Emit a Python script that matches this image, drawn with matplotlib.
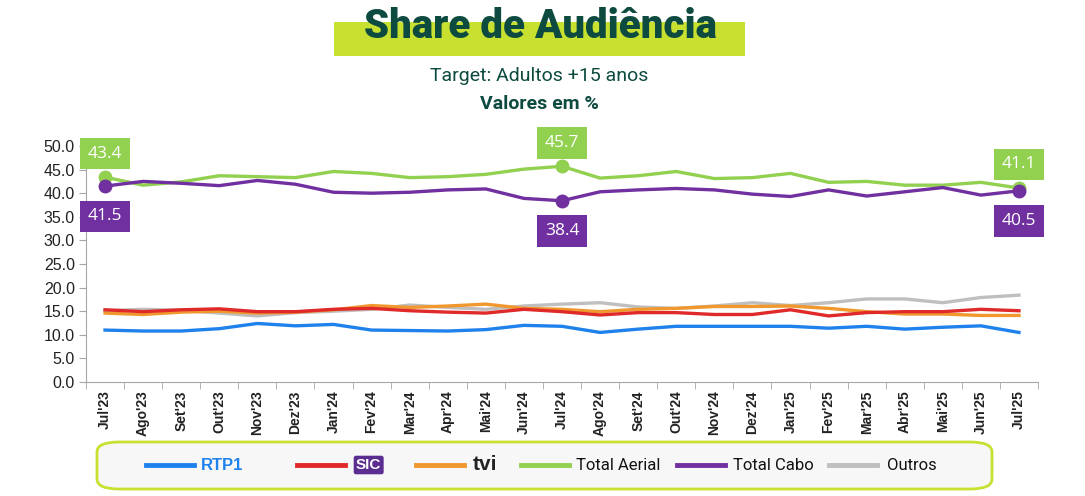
import matplotlib.pyplot as plt
import numpy as np
from matplotlib.patches import FancyBboxPatch, Rectangle

plt.rcParams['font.family'] = ['Liberation Sans', 'DejaVu Sans']

meses = ["Jul'23", "Ago'23", "Set'23", "Out'23", "Nov'23", "Dez'23", "Jan'24", "Fev'24",
         "Mar'24", "Apr'24", "Mai'24", "Jun'24", "Jul'24", "Ago'24", "Set'24", "Out'24",
         "Nov'24", "Dez'24", "Jan'25", "Fev'25", "Mar'25", "Abr'25", "Mai'25", "Jun'25", "Jul'25"]

rtp1 = [11.0, 10.8, 10.8, 11.3, 12.4, 11.9, 12.2, 11.0, 10.9, 10.8, 11.1, 12.0, 11.8, 10.5,
        11.2, 11.8, 11.8, 11.8, 11.8, 11.4, 11.8, 11.2, 11.6, 11.9, 10.5]
sic = [15.3, 14.9, 15.3, 15.5, 14.9, 14.9, 15.4, 15.6, 15.1, 14.8, 14.6, 15.4, 14.9, 14.2,
       14.7, 14.7, 14.3, 14.3, 15.3, 14.0, 14.7, 14.9, 14.9, 15.4, 15.1]
tvi = [14.6, 14.3, 14.8, 15.0, 14.6, 14.8, 15.3, 16.2, 15.8, 16.1, 16.5, 15.6, 15.4, 14.9,
       15.4, 15.6, 16.0, 16.0, 16.1, 15.6, 14.9, 14.4, 14.4, 14.1, 14.1]
total_aerial = [43.4, 41.7, 42.4, 43.7, 43.5, 43.3, 44.6, 44.2, 43.3, 43.5, 44.0, 45.1, 45.7,
                43.2, 43.7, 44.6, 43.1, 43.3, 44.2, 42.3, 42.5, 41.7, 41.7, 42.3, 41.1]
total_cabo = [41.5, 42.5, 42.1, 41.6, 42.7, 41.9, 40.2, 40.0, 40.2, 40.7, 40.9, 38.9, 38.4,
              40.3, 40.7, 41.0, 40.7, 39.8, 39.3, 40.7, 39.4, 40.3, 41.2, 39.6, 40.5]
outros = [15.1, 15.4, 15.2, 14.6, 14.0, 14.7, 15.0, 15.4, 16.3, 15.8, 15.4, 16.1, 16.5, 16.8,
          15.9, 15.6, 16.1, 16.8, 16.2, 16.8, 17.6, 17.6, 16.8, 17.9, 18.4]

cores = {'rtp1': '#1f82ec', 'sic': '#e02a2a', 'tvi': '#f0982e',
         'aerial': '#92d050', 'cabo': '#7030a0', 'outros': '#bfbfbf'}
verde_escuro = '#0d4a3f'

fig = plt.figure(figsize=(10.85, 4.96), dpi=100)
ax = fig.add_axes([86 / 1085, 1 - 382 / 496, (1038 - 86) / 1085, 236 / 496])

x = np.arange(len(meses))
lw = 2.4
ax.plot(x, outros, color=cores['outros'], lw=lw)
ax.plot(x, tvi, color=cores['tvi'], lw=lw)
ax.plot(x, sic, color=cores['sic'], lw=lw)
ax.plot(x, rtp1, color=cores['rtp1'], lw=lw)
ax.plot(x, total_aerial, color=cores['aerial'], lw=lw)
ax.plot(x, total_cabo, color=cores['cabo'], lw=lw)

# pontos destacados com caixas de valor
destaque = [0, 12, 24]
for i in destaque:
    ax.plot(i, total_aerial[i], 'o', color=cores['aerial'], ms=9, clip_on=False, zorder=5)
    ax.plot(i, total_cabo[i], 'o', color=cores['cabo'], ms=9, clip_on=False, zorder=5)
    ax.text(i, total_aerial[i] + 5.0, '%.1f' % total_aerial[i], ha='center', va='center',
            color='white', fontsize=12.5, family=['Open Sans', 'DejaVu Sans'],
            bbox=dict(boxstyle='square,pad=0.45', fc=cores['aerial'], ec='none'), clip_on=False)
    ax.text(i, total_cabo[i] - 6.4, '%.1f' % total_cabo[i], ha='center', va='center',
            color='white', fontsize=12.5, family=['Open Sans', 'DejaVu Sans'],
            bbox=dict(boxstyle='square,pad=0.45', fc=cores['cabo'], ec='none'), clip_on=False)

ax.set_xlim(-0.5, len(meses) - 0.5)
ax.set_ylim(0, 50)
ax.set_yticks(np.arange(0, 50.1, 5))
ax.set_yticklabels(['%.1f' % v for v in np.arange(0, 50.1, 5)], fontsize=11.5, color='#222222')
ax.set_xticks(x)
ax.set_xticklabels(meses, rotation=90, fontsize=10, fontweight='bold', color='#222222')
ax.set_xticks(np.arange(-0.5, len(meses), 1), minor=True)
ax.tick_params(axis='x', which='major', length=0, pad=6)
ax.tick_params(axis='x', which='minor', length=5, color='#a6a6a6')
ax.tick_params(axis='y', length=5, color='#a6a6a6', pad=3)
for s in ['top', 'right']:
    ax.spines[s].set_visible(False)
for s in ['left', 'bottom']:
    ax.spines[s].set_color('#a6a6a6')

# titulo
fig.patches.append(Rectangle((334 / 1085, 1 - 56 / 496), 411 / 1085, 34 / 496,
                             transform=fig.transFigure, fc='#c8e030', ec='none', zorder=0))
fig.text(0.4985, 1 - 26 / 496, 'Share de Audiência', ha='center', va='center',
         fontsize=29, fontweight='heavy', color=verde_escuro, family=['Roboto', 'DejaVu Sans'])
fig.text(0.497, 1 - 76 / 496, 'Target: Adultos +15 anos', ha='center', va='center',
         fontsize=14, color=verde_escuro, family=['Roboto', 'DejaVu Sans'])
fig.text(0.497, 1 - 104 / 496, 'Valores em %', ha='center', va='center',
         fontsize=14, fontweight='bold', color=verde_escuro, family=['Roboto', 'DejaVu Sans'])

# legenda
fig.patches.append(FancyBboxPatch((97 / 1085, 1 - 489 / 496), 895 / 1085, 47 / 496,
                                  boxstyle='round,pad=0,rounding_size=0.02',
                                  transform=fig.transFigure, fc='#f7f7f7', ec='#c8e030', lw=2))
ly = 1 - 465 / 496
itens = [('rtp1', 'RTP1', 146, 201), ('sic', 'SIC', 297, 353), ('tvi', 'tvi', 416, 473),
         ('aerial', 'Total Aerial', 521, 576), ('cabo', 'Total Cabo', 677, 733),
         ('outros', 'Outros', 829, 887)]
for chave, nome, x0, xt in itens:
    fig.lines.append(plt.Line2D([x0 / 1085, (x0 + 48) / 1085], [ly, ly], transform=fig.transFigure,
                                color=cores[chave], lw=3.5))
    if chave == 'rtp1':
        fig.text(xt / 1085, ly, nome, ha='left', va='center', fontsize=12, fontweight='bold',
                 color=cores['rtp1'])
    elif chave == 'sic':
        fig.text((xt + 3) / 1085, ly, nome, ha='left', va='center', fontsize=11, fontweight='bold',
                 color='white', bbox=dict(boxstyle='round,pad=0.15', fc='#5a2d91', ec='none'))
    elif chave == 'tvi':
        fig.text(xt / 1085, ly, nome, ha='left', va='center', fontsize=15, fontweight='heavy',
                 color='#222222')
    else:
        fig.text(xt / 1085, ly, nome, ha='left', va='center', fontsize=12, color='#111111',
                 family=['Roboto', 'DejaVu Sans'])

fig.savefig('out.png', dpi=100)
